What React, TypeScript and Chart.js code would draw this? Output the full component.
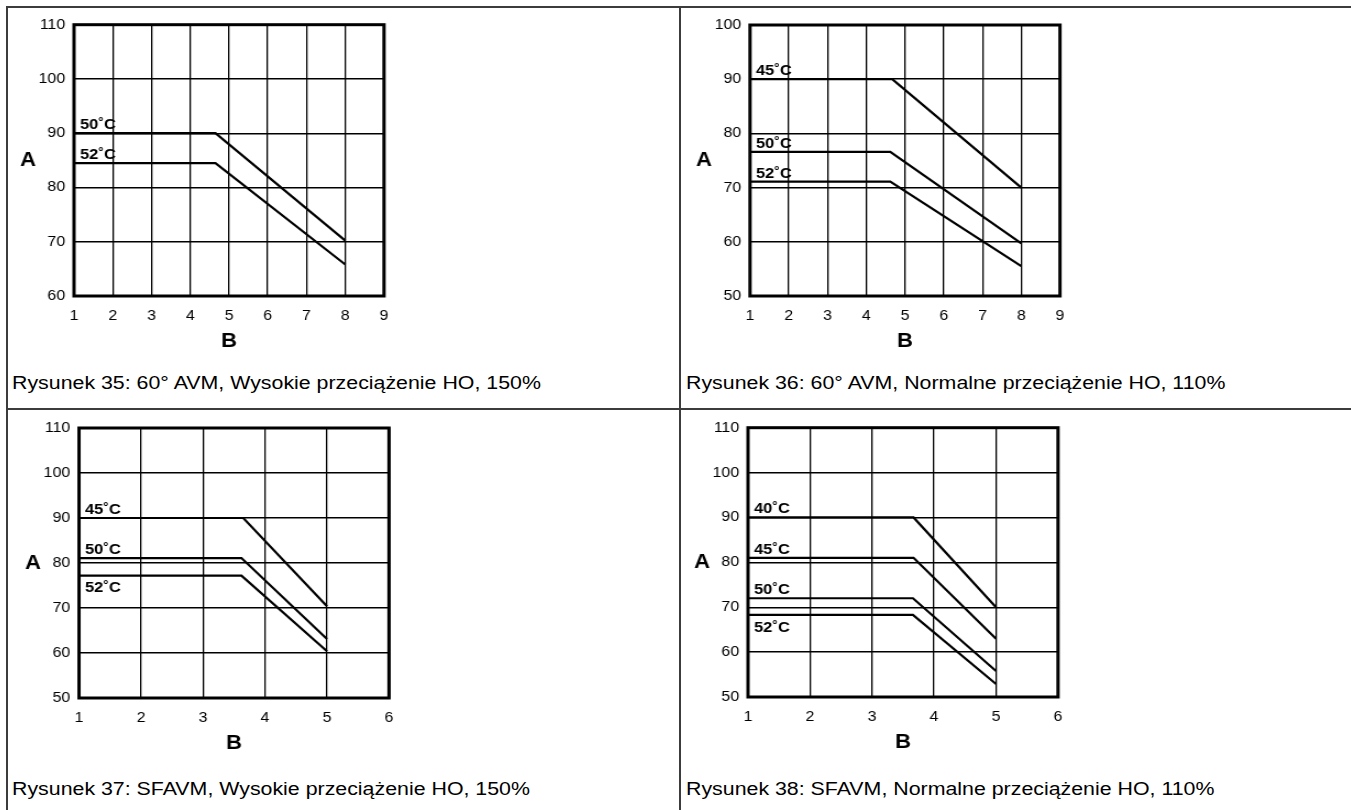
import React, { useEffect, useRef } from "react";
import { Chart, registerables } from "chart.js";

Chart.register(...registerables);

// ---------- Data ----------
// Rysunek 35
const c1XTicksMin = 1;
const c1XTicksMax = 9;
const c1YMin = 60;
const c1YMax = 110;
const c1Labels = ["50˚C", "52˚C"];
const c1X50 = [1, 4.65, 8];
const c1Y50 = [90, 90, 70.2];
const c1X52 = [1, 4.65, 8];
const c1Y52 = [84.5, 84.5, 65.8];

// Rysunek 36
const c2XTicksMin = 1;
const c2XTicksMax = 9;
const c2YMin = 50;
const c2YMax = 100;
const c2Labels = ["45˚C", "50˚C", "52˚C"];
const c2X45 = [1, 4.67, 8];
const c2Y45 = [90, 90, 70];
const c2X50 = [1, 4.62, 8];
const c2Y50 = [76.6, 76.6, 59.7];
const c2X52 = [1, 4.62, 8];
const c2Y52 = [71.1, 71.1, 55.5];

// Rysunek 37
const c3XTicksMin = 1;
const c3XTicksMax = 6;
const c3YMin = 50;
const c3YMax = 110;
const c3Labels = ["45˚C", "50˚C", "52˚C"];
const c3X45 = [1, 3.65, 5];
const c3Y45 = [90, 90, 70.4];
const c3X50 = [1, 3.62, 5];
const c3Y50 = [81.1, 81.1, 63.1];
const c3X52 = [1, 3.62, 5];
const c3Y52 = [77.2, 77.2, 60.4];

// Rysunek 38
const c4XTicksMin = 1;
const c4XTicksMax = 6;
const c4YMin = 50;
const c4YMax = 110;
const c4Labels = ["40˚C", "45˚C", "50˚C", "52˚C"];
const c4X40 = [1, 3.67, 5];
const c4Y40 = [90, 90, 70];
const c4X45 = [1, 3.67, 5];
const c4Y45 = [81, 81, 63];
const c4X50 = [1, 3.66, 5];
const c4Y50 = [72, 72, 55.8];
const c4X52 = [1, 3.66, 5];
const c4Y52 = [68.3, 68.3, 52.9];

const captions = [
  "Rysunek 35: 60° AVM, Wysokie przeciążenie HO, 150%",
  "Rysunek 36: 60° AVM, Normalne przeciążenie HO, 110%",
  "Rysunek 37: SFAVM, Wysokie przeciążenie HO, 150%",
  "Rysunek 38: SFAVM, Normalne przeciążenie HO, 110%",
];

const yAxisTitle = "A";
const xAxisTitle = "B";

const FONT = "'Liberation Sans', Arial, Helvetica, sans-serif";
// the reference is slightly stretched horizontally
const STRETCH = 1.1;

type Series = { xs: number[]; ys: number[]; label: string; below: boolean };

type PanelProps = {
  cx: number;
  cy: number;
  cw: number;
  ch: number;
  pl: number;
  pt: number;
  pr: number;
  pb: number;
  xMin: number;
  xMax: number;
  yMin: number;
  yMax: number;
  series: Series[];
};

function ChartPanel(p: PanelProps) {
  const ref = useRef<HTMLCanvasElement>(null);
  const cwC = Math.round(p.cw / STRETCH);
  const k = p.cw / cwC; // actual horizontal stretch
  useEffect(() => {
    if (!ref.current) return;
    const YW = 36;
    const XH = 32;
    const textPlugin = {
      id: "panelText",
      afterDatasetsDraw(chart: any) {
        const { ctx, chartArea } = chart;
        ctx.save();
        ctx.strokeStyle = "#000";
        ctx.lineWidth = 3;
        ctx.strokeRect(
          chartArea.left,
          chartArea.top,
          chartArea.right - chartArea.left,
          chartArea.bottom - chartArea.top
        );
        ctx.restore();
      },
      afterDraw(chart: any) {
        const { ctx, chartArea, scales } = chart;
        ctx.save();
        ctx.fillStyle = "#000";
        ctx.font = `bold 15px ${FONT}`;
        ctx.textAlign = "left";
        p.series.forEach((s) => {
          const x = scales.x.getPixelForValue(s.xs[0]) + 6 / k;
          const y = scales.y.getPixelForValue(s.ys[0]);
          if (s.below) {
            ctx.textBaseline = "top";
            ctx.fillText(s.label, x, y + 5);
          } else {
            ctx.textBaseline = "alphabetic";
            ctx.fillText(s.label, x, y - 4);
          }
        });
        ctx.font = `bold 20px ${FONT}`;
        ctx.textAlign = "center";
        ctx.textBaseline = "middle";
        ctx.fillText(
          yAxisTitle,
          chartArea.left - 46 / k,
          (chartArea.top + chartArea.bottom) / 2
        );
        ctx.fillText(
          xAxisTitle,
          (chartArea.left + chartArea.right) / 2,
          chartArea.bottom + 45
        );
        ctx.restore();
      },
    };
    const chart = new Chart(ref.current, {
      type: "scatter",
      data: {
        datasets: p.series.map((s) => ({
          label: s.label,
          data: s.xs.map((x, i) => ({ x, y: s.ys[i] })),
          showLine: true,
          borderColor: "#000",
          backgroundColor: "#000",
          borderWidth: 2.2,
          pointRadius: 0,
          pointHoverRadius: 0,
          fill: false,
          tension: 0,
        })),
      },
      options: {
        animation: false,
        responsive: false,
        devicePixelRatio: 1,
        events: [],
        layout: {
          padding: {
            left: (p.pl - p.cx) / k - YW,
            top: p.pt - p.cy,
            right: (p.cx + p.cw - p.pr) / k,
            bottom: p.cy + p.ch - p.pb - XH,
          },
        },
        plugins: {
          legend: { display: false },
          tooltip: { enabled: false },
          title: { display: false },
        },
        scales: {
          x: {
            type: "linear",
            min: p.xMin,
            max: p.xMax,
            afterFit: (s: any) => {
              s.height = XH;
            },
            ticks: {
              stepSize: 1,
              padding: 11,
              color: "#000",
              font: { family: FONT, size: 14.5 },
              autoSkip: false,
              maxRotation: 0,
            },
            grid: { color: "#000", lineWidth: 1.3, drawTicks: false },
            border: { display: false },
          },
          y: {
            type: "linear",
            min: p.yMin,
            max: p.yMax,
            afterFit: (s: any) => {
              s.width = YW;
            },
            ticks: {
              stepSize: 10,
              padding: 8,
              color: "#000",
              font: { family: FONT, size: 14.5 },
            },
            grid: { color: "#000", lineWidth: 1.4, drawTicks: false },
            border: { display: false },
          },
        },
      },
      plugins: [textPlugin],
    } as any);
    return () => chart.destroy();
  }, []);
  return (
    <canvas
      ref={ref}
      width={cwC}
      height={p.ch}
      style={{ position: "absolute", left: p.cx, top: p.cy, width: p.cw, height: p.ch }}
    />
  );
}

function Caption({ left, top, text }: { left: number; top: number; text: string }) {
  return (
    <div
      style={{
        position: "absolute",
        left,
        top,
        fontFamily: FONT,
        fontSize: 17.5,
        lineHeight: "20px",
        color: "#000",
        whiteSpace: "nowrap",
        transform: "scaleX(1.22)",
        transformOrigin: "0 0",
      }}
    >
      {text}
    </div>
  );
}

const lineColor = "#3c3c3c";

export default function App() {
  const s1: Series[] = [
    { xs: c1X50, ys: c1Y50, label: c1Labels[0], below: false },
    { xs: c1X52, ys: c1Y52, label: c1Labels[1], below: false },
  ];
  const s2: Series[] = [
    { xs: c2X45, ys: c2Y45, label: c2Labels[0], below: false },
    { xs: c2X50, ys: c2Y50, label: c2Labels[1], below: false },
    { xs: c2X52, ys: c2Y52, label: c2Labels[2], below: false },
  ];
  const s3: Series[] = [
    { xs: c3X45, ys: c3Y45, label: c3Labels[0], below: false },
    { xs: c3X50, ys: c3Y50, label: c3Labels[1], below: false },
    { xs: c3X52, ys: c3Y52, label: c3Labels[2], below: true },
  ];
  const s4: Series[] = [
    { xs: c4X40, ys: c4Y40, label: c4Labels[0], below: false },
    { xs: c4X45, ys: c4Y45, label: c4Labels[1], below: false },
    { xs: c4X50, ys: c4Y50, label: c4Labels[2], below: false },
    { xs: c4X52, ys: c4Y52, label: c4Labels[3], below: true },
  ];
  return (
    <div
      style={{
        position: "absolute",
        left: 0,
        top: 0,
        width: 1351,
        height: 810,
        overflow: "hidden",
        background: "#fff",
      }}
    >
      {/* table borders */}
      <div style={{ position: "absolute", left: 6, top: 6, width: 1345, height: 2, background: lineColor }} />
      <div style={{ position: "absolute", left: 6, top: 6, width: 2, height: 804, background: lineColor }} />
      <div style={{ position: "absolute", left: 679, top: 6, width: 2, height: 804, background: lineColor }} />
      <div style={{ position: "absolute", left: 6, top: 408, width: 1345, height: 2, background: lineColor }} />

      <ChartPanel cx={8} cy={8} cw={660} ch={350} pl={74} pt={24} pr={384} pb={296}
        xMin={c1XTicksMin} xMax={c1XTicksMax} yMin={c1YMin} yMax={c1YMax} series={s1} />
      <ChartPanel cx={682} cy={8} cw={660} ch={350} pl={750} pt={25} pr={1060} pb={296}
        xMin={c2XTicksMin} xMax={c2XTicksMax} yMin={c2YMin} yMax={c2YMax} series={s2} />
      <ChartPanel cx={8} cy={411} cw={660} ch={350} pl={79} pt={428} pr={389} pb={698}
        xMin={c3XTicksMin} xMax={c3XTicksMax} yMin={c3YMin} yMax={c3YMax} series={s3} />
      <ChartPanel cx={682} cy={411} cw={660} ch={350} pl={748} pt={427} pr={1058} pb={697}
        xMin={c4XTicksMin} xMax={c4XTicksMax} yMin={c4YMin} yMax={c4YMax} series={s4} />

      <Caption left={12} top={373} text={captions[0]} />
      <Caption left={686} top={373} text={captions[1]} />
      <Caption left={12} top={779} text={captions[2]} />
      <Caption left={686} top={779} text={captions[3]} />
    </div>
  );
}
